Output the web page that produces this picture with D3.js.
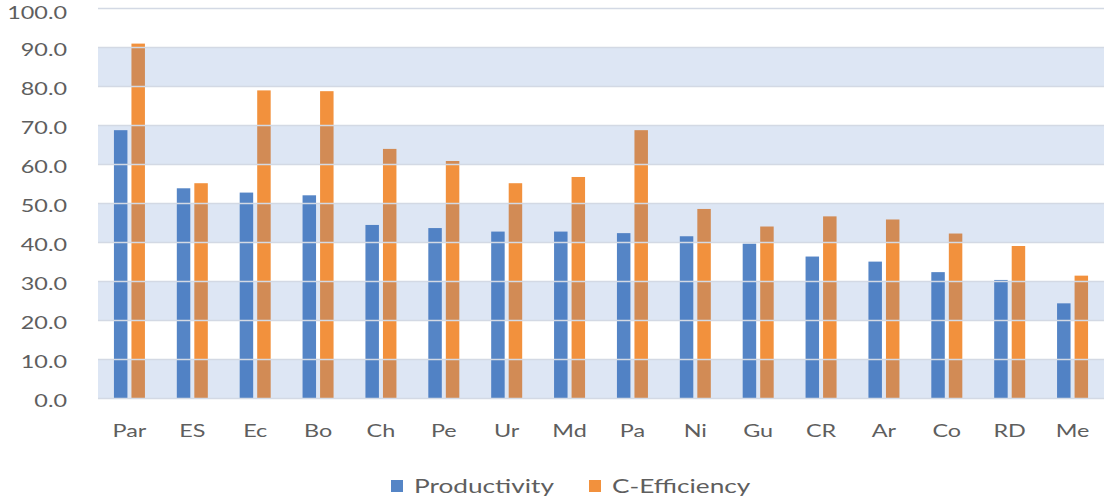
<!DOCTYPE html>
<html>
<head>
<meta charset="utf-8">
<script src="https://cdn.jsdelivr.net/npm/d3@7"></script>
<style>
  html, body { margin: 0; padding: 0; background: #fff; }
  svg { display: block; }
  text { font-family: Lato, "Open Sans", sans-serif; fill: #5e5e5e; }
</style>
</head>
<body>
<svg id="chart" width="1104" height="499"></svg>
<script>
// grouped bars: productivity vs c-efficiency by country

const countries = ["Par","ES","Ec","Bo","Ch","Pe","Ur","Md","Pa","Ni","Gu","CR","Ar","Co","RD","Me"];
const productivity = [68.8, 53.9, 52.8, 52.1, 44.5, 43.7, 42.8, 42.8, 42.4, 41.6, 39.7, 36.4, 35.1, 32.4, 30.4, 24.4];
const cEfficiency  = [91.0, 55.2, 79.0, 78.8, 64.0, 60.9, 55.2, 56.8, 68.8, 48.6, 44.1, 46.7, 45.9, 42.3, 39.1, 31.5];
const seriesNames = ["Productivity", "C-Efficiency"];
const yTicks = [0, 10, 20, 30, 40, 50, 60, 70, 80, 90, 100];

const colors = { "Productivity": "#5585c6", "C-Efficiency": "#f2913d" };
const stretch = 1.3; // the source text looks horizontally stretched

const svg = d3.select("#chart");
const plotLeft = 98, plotRight = 1104, plotTop = 8.5, plotBottom = 398.5;

const x0 = d3.scaleBand().domain(countries).range([plotLeft, plotRight])
  .paddingInner(0.507).paddingOuter(0.2535);
const x1 = d3.scaleBand().domain(seriesNames).range([0, x0.bandwidth()]).paddingInner(0.23);
const y = d3.scaleLinear().domain([0, 100]).range([plotBottom, plotTop]);

const rows = countries.map((c, i) => ({
  country: c,
  values: [
    { key: "Productivity", value: productivity[i] },
    { key: "C-Efficiency", value: cEfficiency[i] }
  ]
}));

// bars
const groups = svg.append("g").selectAll("g")
  .data(rows).enter().append("g")
  .attr("transform", d => `translate(${x0(d.country)},0)`);

groups.selectAll("rect")
  .data(d => d.values).enter().append("rect")
  .attr("x", d => x1(d.key))
  .attr("y", d => y(d.value))
  .attr("width", x1.bandwidth())
  .attr("height", d => y(0) - y(d.value))
  .attr("fill", d => colors[d.key]);

// alternating bands sit on top of the bars, semi-transparent
const bands = yTicks.filter(t => t < 100 && (t / 10) % 2 === 0);
svg.append("g").selectAll("rect")
  .data(bands).enter().append("rect")
  .attr("x", plotLeft)
  .attr("y", d => y(d + 10))
  .attr("width", plotRight - plotLeft)
  .attr("height", d => y(d) - y(d + 10))
  .attr("fill", "rgba(68,114,196,0.18)");

// gridlines
svg.append("g").selectAll("line")
  .data(yTicks).enter().append("line")
  .attr("x1", plotLeft).attr("x2", plotRight)
  .attr("y1", d => y(d)).attr("y2", d => y(d))
  .attr("stroke", "#d3d9e4")
  .attr("stroke-width", 1.5);

// y labels (top one nudged down so it isn't clipped)
svg.append("g").selectAll("text")
  .data(yTicks).enter().append("text")
  .attr("transform", d => `translate(67,${Math.max(y(d) + 8, 19)}) scale(${stretch},1)`)
  .attr("text-anchor", "end")
  .style("font-size", "18px")
  .text(d => d3.format(".1f")(d));

// x labels
svg.append("g").selectAll("text")
  .data(countries).enter().append("text")
  .attr("transform", d => `translate(${x0(d) + x0.bandwidth() / 2},437) scale(${stretch},1)`)
  .attr("text-anchor", "middle")
  .style("font-size", "18px")
  .text(d => d);

// legend
const legend = svg.append("g").selectAll("g")
  .data(seriesNames).enter().append("g")
  .attr("transform", (d, i) => `translate(${i === 0 ? 391 : 589},480)`);
legend.append("rect")
  .attr("width", 12).attr("height", 12)
  .attr("fill", d => colors[d]);
legend.append("text")
  .attr("transform", `translate(23,12.5) scale(1.38,1)`)
  .style("font-size", "19px")
  .text(d => d);
</script>
</body>
</html>
